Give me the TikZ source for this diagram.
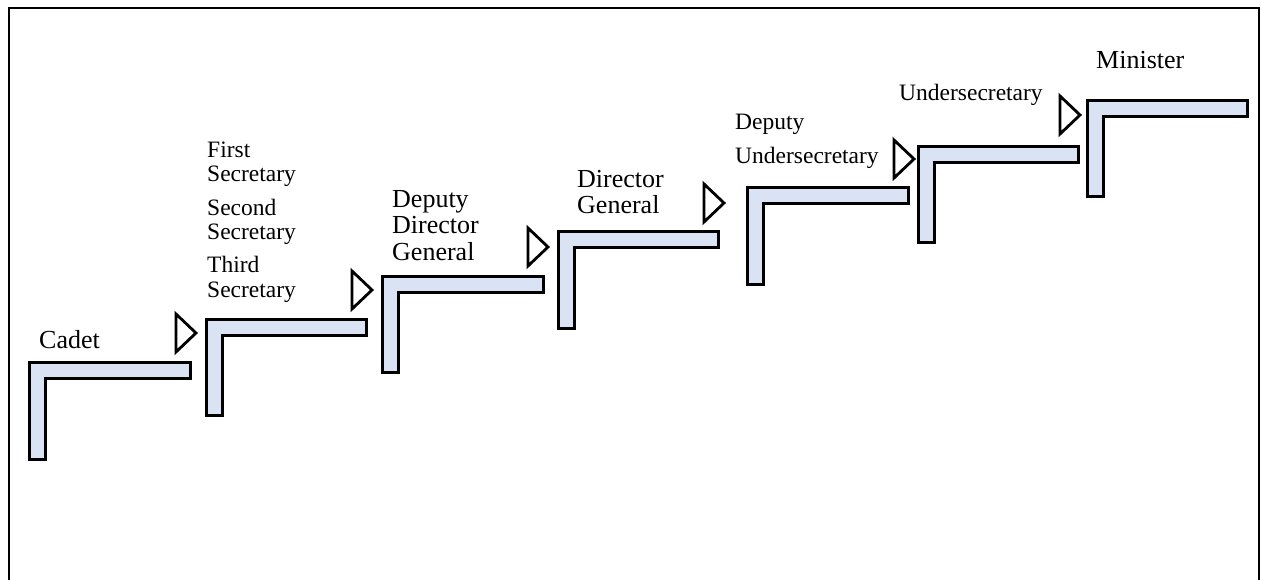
\documentclass[tikz,border=0pt]{standalone}
\usepackage{fontspec}
\setmainfont{Liberation Serif}
\usetikzlibrary{positioning}
\definecolor{stepblue}{HTML}{DAE3F3}
\begin{document}
\begin{tikzpicture}[x=1pt,y=-1pt,
  stair/.style={draw,line width=3pt,fill=stepblue},
  arrowhead/.style={draw,line width=2.8pt,fill=white},
  big/.style={font=\fontsize{26}{26.5}\selectfont,align=left,anchor=base west,inner sep=0pt},
  small/.style={font=\fontsize{23.5}{24.5}\selectfont,align=left,anchor=base west,inner sep=0pt}]
\useasboundingbox (0,0) rectangle (1261,580);
\draw[line width=2pt] (9,600) -- (9,8) -- (1259,8) -- (1259,600);
% the stairs
\foreach \l/\t/\r/\b in {29/362/190/459,206/319/366/415,382/276/543/372,558/232/718/328,747/188/908/284,918/147/1078/243,1087/101/1247/197}
  \draw[stair] (\l,\t) -- (\r,\t) -- (\r,\t+16) -- (\l+16,\t+16) -- (\l+16,\b) -- (\l,\b) -- cycle;
% open heads between the stairs
\foreach \x/\y in {176/333,352/290,528/247,704/203,894/159,1060/115}
  \draw[arrowhead] (\x,\y-19) -- (\x+20,\y) -- (\x,\y+19) -- cycle;
% titles (base = last line)
\node[big] (cadet) at (39,348) {Cadet};
\node[small] (first) at (207,182) {First\\Secretary};
\node[small] (second) at (207,240) {Second\\Secretary};
\node[small] (third) at (207,297) {Third\\Secretary};
\node[big] (ddg) at (392,260) {Deputy\\Director\\General};
\node[big] (dg) at (577,214) {Director\\General};
\node[small,font=\fontsize{23.5}{34}\selectfont] (dus) at (735,164) {Deputy\\Undersecretary};
\node[small] (us) at (899,101) {Undersecretary};
\node[big] (minister) at (1096,69) {Minister};
\end{tikzpicture}
\end{document}
